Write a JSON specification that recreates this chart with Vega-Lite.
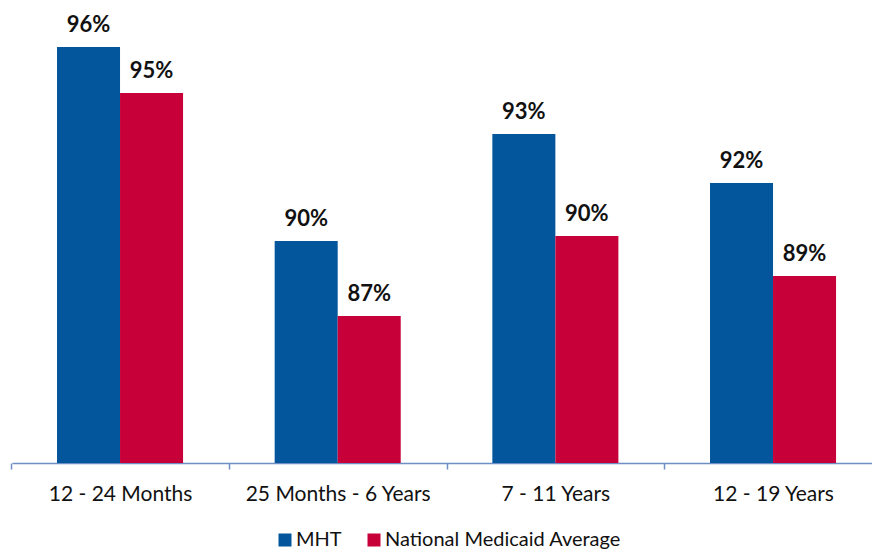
{
  "$schema": "https://vega.github.io/schema/vega-lite/v6.json",
  "width": 860,
  "height": 453,
  "autosize": {"type": "none"},
  "padding": {"left": 12, "top": 10, "right": 0, "bottom": 86},
  "background": "white",
  "config": {"view": {"stroke": null}, "font": "Lato"},
  "data": {
    "values": [
      {"age": "12 - 24 Months", "series": "MHT", "value": 96.27, "label": "96%"},
      {"age": "12 - 24 Months", "series": "National Medicaid Average", "value": 94.73, "label": "95%"},
      {"age": "25 Months - 6 Years", "series": "MHT", "value": 89.8, "label": "90%"},
      {"age": "25 Months - 6 Years", "series": "National Medicaid Average", "value": 87.3, "label": "87%"},
      {"age": "7 - 11 Years", "series": "MHT", "value": 93.37, "label": "93%"},
      {"age": "7 - 11 Years", "series": "National Medicaid Average", "value": 89.97, "label": "90%"},
      {"age": "12 - 19 Years", "series": "MHT", "value": 91.73, "label": "92%"},
      {"age": "12 - 19 Years", "series": "National Medicaid Average", "value": 88.63, "label": "89%"}
    ]
  },
  "encoding": {
    "x": {
      "field": "age",
      "type": "nominal",
      "sort": ["12 - 24 Months", "25 Months - 6 Years", "7 - 11 Years", "12 - 19 Years"],
      "scale": {"paddingInner": 0.421, "paddingOuter": 0.186, "align": 0.556},
      "axis": {
        "title": null,
        "labelAngle": 0,
        "tickOffset": -108.83,
        "labelOffset": 108.83,
        "domainColor": "#6d8fc3",
        "domainWidth": 1.5,
        "tickColor": "#6d8fc3",
        "tickWidth": 1.5,
        "tickSize": 6,
        "labelFontSize": 21,
        "labelColor": "#111111",
        "labelPadding": 14,
        "labelLimit": 0,
        "labelFont": "Lato"
      }
    },
    "xOffset": {"field": "series", "sort": ["MHT", "National Medicaid Average"]},
    "y": {
      "field": "value",
      "type": "quantitative",
      "scale": {"domain": [82.4, 97.5], "zero": false, "nice": false},
      "axis": null
    }
  },
  "layer": [
    {
      "mark": {"type": "bar", "clip": true},
      "encoding": {
        "color": {
          "field": "series",
          "type": "nominal",
          "scale": {"domain": ["MHT", "National Medicaid Average"], "range": ["#03569b", "#c8003a"]},
          "legend": {
            "title": null,
            "orient": "none",
            "direction": "horizontal",
            "legendX": 263,
            "legendY": 520,
            "padding": 0,
            "symbolType": "square",
            "symbolSize": 169,
            "symbolStrokeWidth": 0,
            "symbolOpacity": 1,
            "labelFontSize": 20,
            "labelColor": "#111111",
            "labelFont": "Lato",
            "labelLimit": 0,
            "columnPadding": 22,
            "labelOffset": 1
          }
        }
      }
    },
    {
      "mark": {"type": "text", "fontSize": 22, "fontWeight": "bold", "baseline": "alphabetic", "dy": -15, "color": "#111111"},
      "encoding": {"text": {"field": "label"}}
    }
  ]
}
